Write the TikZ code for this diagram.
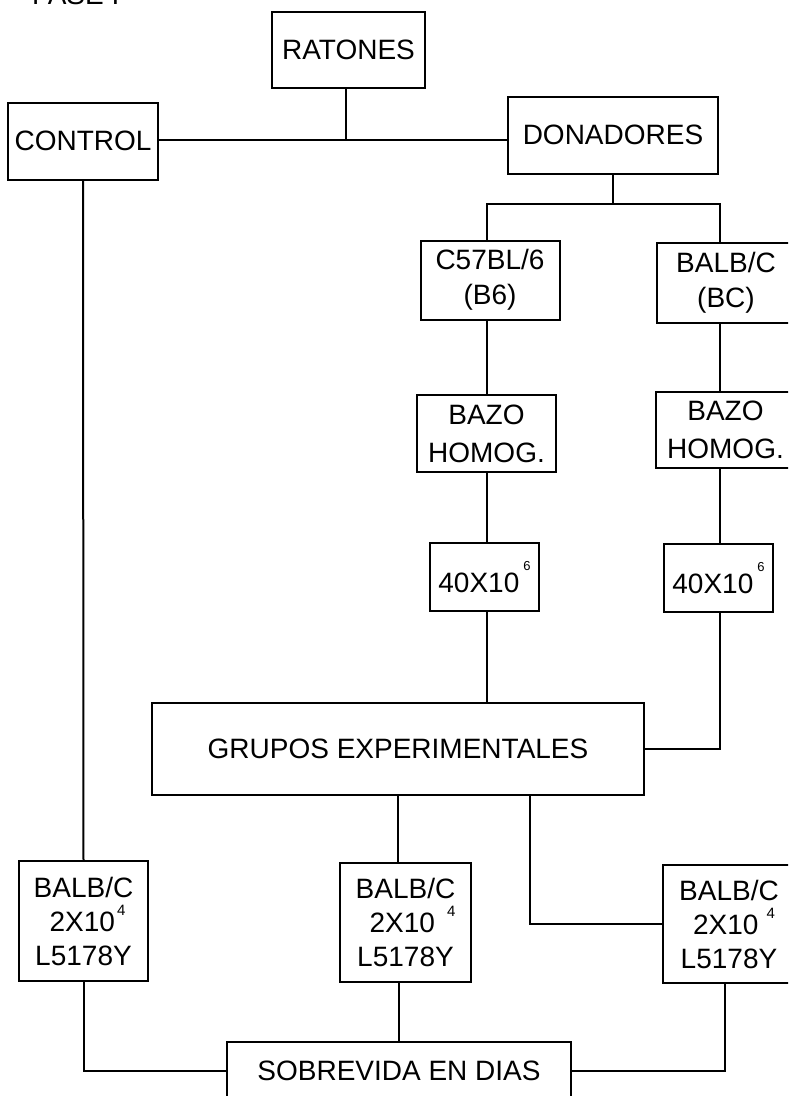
\documentclass[tikz,border=0pt]{standalone}
\usepackage{fontspec}
\setmainfont{Liberation Sans}
\begin{document}
\begin{tikzpicture}[x=1pt,y=-1pt,
  box/.style={draw=black, line width=2pt, inner sep=0pt, align=center,
    font=\fontsize{28}{35}\selectfont},
  link/.style={draw=black, line width=2pt}]
\useasboundingbox (0,0) rectangle (788,1096);
\clip (0,0) rectangle (788,1096);
\fill[white] (0,0) rectangle (788,1096);

\node[anchor=base west, inner sep=0pt, font=\fontsize{28}{34}\selectfont] (fase) at (32,4) {FASE I};

\node[box, minimum width=153pt, minimum height=76pt] (ratones) at (348.5,50) {RATONES};
\node[box, minimum width=150pt, minimum height=77pt] (control) at (83,141) {CONTROL};
\node[box, minimum width=210pt, minimum height=77pt] (donadores) at (613,135) {DONADORES};
\node[box, minimum width=139pt, minimum height=79pt] (c57) at (490,280) {C57BL/6\\(B6)};
\node[box, minimum width=138pt, minimum height=80pt] (balbbc) at (726,283) {BALB/C\\(BC)};
\node[box, minimum width=139pt, minimum height=77pt, font=\fontsize{28}{38}\selectfont] (bazo1) at (486.5,433.5) {BAZO\\HOMOG.};
\node[box, minimum width=139pt, minimum height=76pt, font=\fontsize{28}{38}\selectfont] (bazo2) at (725.5,430) {BAZO\\HOMOG.};
\node[box, minimum width=109pt, minimum height=68pt] (n40a) at (484.5,577) {40X10\hspace{4pt}\raisebox{22pt}{\fontsize{13}{13}\selectfont 6}};
\node[box, minimum width=109pt, minimum height=68pt] (n40b) at (718.5,578) {40X10\hspace{4pt}\raisebox{22pt}{\fontsize{13}{13}\selectfont 6}};
\node[box, minimum width=492pt, minimum height=92pt] (grupos) at (398,749) {GRUPOS EXPERIMENTALES};
\node[box, minimum width=129pt, minimum height=120pt, font=\fontsize{28}{34}\selectfont] (b1) at (83.5,921) {BALB/C\\\hspace{8pt}2X10\hspace{2pt}\raisebox{16pt}{\fontsize{15}{15}\selectfont 4}\\L5178Y};
\node[box, minimum width=131pt, minimum height=119pt, font=\fontsize{28}{34}\selectfont] (b2) at (405.5,922.5) {BALB/C\\\hspace{14pt}2X10\hspace{12pt}\raisebox{16pt}{\fontsize{15}{15}\selectfont 4}\\L5178Y};
\node[box, minimum width=132pt, minimum height=118pt, font=\fontsize{28}{34}\selectfont] (b3) at (729,924) {BALB/C\\\hspace{10pt}2X10\hspace{8pt}\raisebox{16pt}{\fontsize{15}{15}\selectfont 4}\\L5178Y};
\node[box, minimum width=344pt, minimum height=58pt] (sobre) at (399,1071) {SOBREVIDA EN DIAS};

\coordinate (j1) at (346,140);
\coordinate (j2) at (613,204);
\coordinate (cL) at (487,0);
\coordinate (cR) at (720,0);
\coordinate (cM) at (530,0);
\coordinate (cB) at (725,0);

\draw[link] (control.east |- j1) -- (donadores.west |- j1);
\draw[link] (ratones.south -| j1) -- (j1);
\draw[link] (donadores.south -| j2) -- (j2);
\draw[link] (c57.north -| cL) |- (j2) -| (balbbc.north -| cR);
\draw[link] (c57.south -| cL) -- (bazo1.north -| cL);
\draw[link] (bazo1.south -| cL) -- (n40a.north -| cL);
\draw[link] (n40a.south -| cL) -- (grupos.north -| cL);
\draw[link] (balbbc.south -| cR) -- (bazo2.north -| cR);
\draw[link] (bazo2.south -| cR) -- (n40b.north -| cR);
\draw[link] (n40b.south -| cR) |- (grupos.east);
\draw[link] (control.south) -- (b1.north);
\draw[link] (grupos.south) -- (b2.north -| grupos.south);
\draw[link] (grupos.south -| cM) |- (b3.west);
\draw[link] (b1.south) |- (sobre.west);
\draw[link] (b2.south -| sobre.north) -- (sobre.north);
\draw[link] (b3.south -| cB) |- (sobre.east);
\end{tikzpicture}
\end{document}
